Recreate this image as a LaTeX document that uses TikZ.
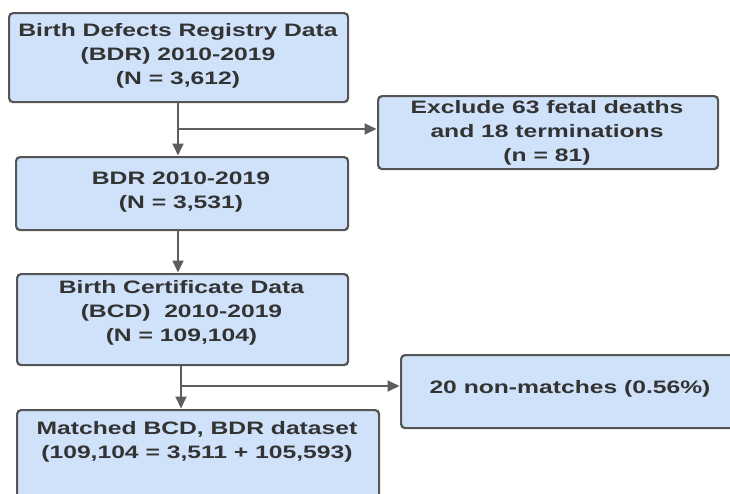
\documentclass[tikz,border=0pt]{standalone}
\usepackage{fontspec}
\newfontfamily\boxfont{Liberation Sans}[FakeStretch=1.37]
\usetikzlibrary{arrows.meta}
\definecolor{boxfill}{HTML}{CFE2FA}
\definecolor{boxline}{HTML}{555555}
\definecolor{txt}{HTML}{333333}
\definecolor{conncol}{HTML}{5E5E5E}
\begin{document}
\begin{tikzpicture}[x=1pt,y=-1pt,
  box/.style={draw=boxline, fill=boxfill, line width=2.2pt, rounded corners=4pt, anchor=north west, inner sep=0pt},
  lbl/.style={text=txt, font=\boxfont\bfseries\fontsize{18}{24}\selectfont, align=center, inner sep=0pt},
  conn/.style={draw=conncol, line width=1.8pt, -{Triangle[length=12pt,width=11pt]}, shorten >=0.5pt},
  plain/.style={draw=conncol, line width=1.8pt}]
\useasboundingbox (0,0) rectangle (730,493);
\clip (0,0) rectangle (730,493);
\fill[white] (0,0) rectangle (730,493);

% boxes
\node[box, minimum width=339pt, minimum height=89pt] (b1) at (8,12) {};
\node[box, minimum width=340pt, minimum height=73pt] (b2) at (377,95) {};
\node[box, minimum width=332pt, minimum height=73pt] (b3) at (15,156) {};
\node[box, minimum width=331pt, minimum height=91pt] (b4) at (16,273) {};
\node[box, minimum width=345pt, minimum height=73pt] (b5) at (400,354) {};
\node[box, minimum width=362pt, minimum height=110pt] (b6) at (16,409) {};

% labels
\node[lbl] (t1) at (178,56) {Birth Defects Registry Data\\(BDR) 2010-2019\\(N = 3,612)};
\node[lbl] (t2) at (547,133) {Exclude 63 fetal deaths\\and 18 terminations\\(n = 81)};
\node[lbl] (t3) at (181,192) {BDR 2010-2019\\(N = 3,531)};
\node[lbl] (t4) at (181.5,313) {Birth Certificate Data\\(BCD)\ \ 2010-2019\\(N = 109,104)};
\node[lbl] (t5) at (570,389) {20 non-matches (0.56\%)};
\node[lbl] (t6) at (197,442) {Matched BCD, BDR dataset\\(109,104 = 3,511 + 105,593)};

% connectors
\coordinate (j1) at (178,129);
\coordinate (j2) at (181,386);
\draw[plain] (b1.south -| j1) -- (j1);
\draw[conn] (j1) -- (b3.north -| j1);
\draw[conn] (j1) -- (b2.west |- j1);
\draw[conn] (b3.south -| j1) -- (b4.north -| j1);
\draw[plain] (b4.south -| j2) -- (j2);
\draw[conn] (j2) -- (b6.north -| j2);
\draw[conn] (j2) -- (b5.west |- j2);
\end{tikzpicture}
\end{document}
